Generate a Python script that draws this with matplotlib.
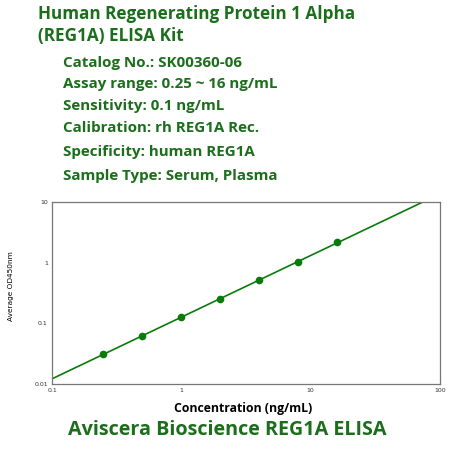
import numpy as np
import matplotlib.pyplot as plt

# Curva estándar REG1A
conc = [0.25, 0.5, 1, 2, 4, 8, 16]
od = [0.031, 0.0625, 0.127, 0.252, 0.525, 1.01, 2.17]

title_lines = ["Human Regenerating Protein 1 Alpha", "(REG1A) ELISA Kit"]
info_lines = ["Catalog No.: SK00360-06",
              "Assay range: 0.25 ~ 16 ng/mL",
              "Sensitivity: 0.1 ng/mL",
              "Calibration: rh REG1A Rec.",
              "Specificity: human REG1A",
              "Sample Type: Serum, Plasma"]

green = '#1b6e1b'
W = H = 450

fig = plt.figure(figsize=(4.5, 4.5), dpi=100)

def px(x, y):
    return x / W, 1 - y / H

# Textos superiores
for txt, yb in zip(title_lines, [19, 41]):
    fig.text(*px(38, yb), txt, fontsize=12.3, fontweight='bold', family='Open Sans',
             color=green, va='baseline', ha='left')
for txt, yb in zip(info_lines, [67, 88, 110, 132, 156, 180]):
    fig.text(*px(63, yb), txt, fontsize=10.9, fontweight='bold', family='Open Sans',
             color=green, va='baseline', ha='left')

# Ejes
ax = fig.add_axes([52 / W, 1 - 384 / H, (440 - 52) / W, (384 - 202) / H])
ax.set_xscale('log')
ax.set_yscale('log')
ax.set_xlim(0.1, 100)
ax.set_ylim(0.01, 10)

# Ajuste lineal en escala log-log
p = np.polyfit(np.log10(conc), np.log10(od), 1)
xf = np.logspace(-1, 2, 50)
ax.plot(xf, 10 ** np.polyval(p, np.log10(xf)), color='#0a7a0a', lw=1.2)
ax.plot(conc, od, 'o', color='#0a7a0a', ms=4.5)

ax.set_xticks([0.1, 1, 10, 100])
ax.set_xticklabels(['0.1', '1', '10', '100'])
ax.set_yticks([0.01, 0.1, 1, 10])
ax.set_yticklabels(['0.01', '0.1', '1', '10'])
ax.minorticks_off()
ax.tick_params(length=0, labelsize=4.5, colors='#333333', pad=3)
for s in ax.spines.values():
    s.set_color('#777777')
    s.set_linewidth(0.9)

fig.text(*px(243, 412), 'Concentration (ng/mL)', fontsize=8.85, fontweight='bold',
         family='Open Sans', color='black', ha='center', va='baseline')
fig.text(*px(11, 286), 'Average OD450nm', fontsize=5.3, rotation=90,
         color='black', ha='center', va='center')
fig.text(*px(227, 435), 'Aviscera Bioscience REG1A ELISA', fontsize=14.2,
         fontweight='bold', family='Open Sans', color=green, ha='center', va='baseline')

fig.savefig('out.png', dpi=100)
